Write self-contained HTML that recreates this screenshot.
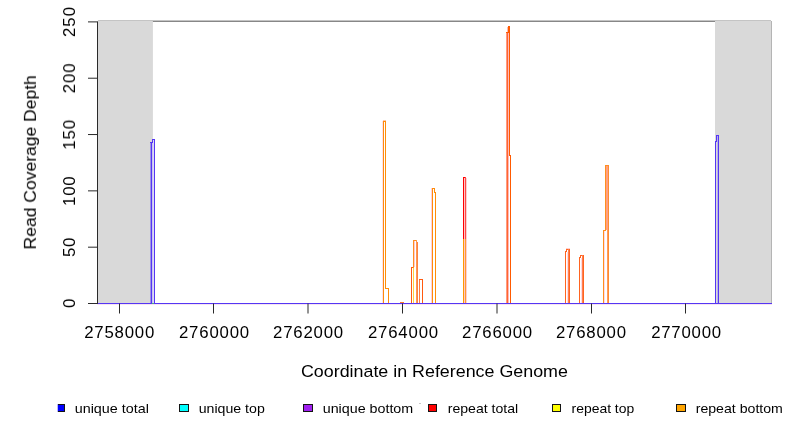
<!DOCTYPE html><html><head><meta charset="utf-8"><style>html,body{margin:0;padding:0;background:#fff;width:792px;height:432px;overflow:hidden} text{will-change:transform}</style></head><body><svg width="792" height="432" viewBox="0 0 792 432" style="display:block"><rect x="0" y="0" width="792" height="432" fill="#fff"/><rect x="98" y="20" width="673" height="1" fill="#c4c4c4"/><rect x="97" y="21" width="675" height="1" fill="#878787"/><rect x="98" y="21" width="54.9" height="282" fill="#d9d9d9"/><rect x="715" y="21" width="56" height="282" fill="#d9d9d9"/><rect x="771" y="21" width="1" height="283" fill="#b4b4b4"/><rect x="770.8" y="20" width="0.2" height="1" fill="#c4c4c4"/><rect x="97" y="304" width="675" height="1" fill="#f6e4f2"/><rect x="150" y="142" width="1" height="162" fill="#9f93e8"/><rect x="152" y="143" width="1" height="160" fill="#c9c6ee"/><rect x="153" y="140" width="1" height="163" fill="#dcdaf6"/><rect x="151" y="142" width="1" height="162" fill="#5536f4"/><rect x="150" y="142" width="3" height="1" fill="#5536f4"/><rect x="152" y="139" width="1" height="4" fill="#5536f4"/><rect x="152" y="139" width="3" height="1" fill="#5536f4"/><rect x="154" y="139" width="1" height="165" fill="#5536f4"/><rect x="717" y="136" width="1" height="167" fill="#b8b4ea"/><rect x="715" y="141" width="1" height="163" fill="#5536f4"/><rect x="715" y="141" width="2" height="1" fill="#5536f4"/><rect x="716" y="135" width="1" height="7" fill="#5536f4"/><rect x="716" y="135" width="3" height="1" fill="#5536f4"/><rect x="718" y="135" width="1" height="169" fill="#5536f4"/><rect x="382" y="121" width="1" height="182" fill="#fde0ea"/><rect x="383" y="120" width="3" height="1" fill="#ffc9a8"/><rect x="383" y="121" width="1" height="183" fill="#ff8c0a"/><rect x="383" y="121" width="3" height="1" fill="#ff8c0a"/><rect x="385" y="121" width="1" height="168" fill="#ff8c0a"/><rect x="385" y="288" width="4" height="1" fill="#ff8c0a"/><rect x="388" y="288" width="1" height="16" fill="#ff8c0a"/><rect x="400" y="302" width="4" height="1" fill="#ff7a30"/><rect x="411" y="267" width="1" height="37" fill="#ff5a10"/><rect x="411" y="267" width="3" height="1" fill="#ff5a10"/><rect x="413" y="268" width="1" height="35" fill="#ffd040"/><rect x="414" y="241" width="1" height="26" fill="#ffc8d0"/><rect x="413" y="240" width="1" height="28" fill="#ff9020"/><rect x="413" y="240" width="4" height="1" fill="#ff9020"/><rect x="416" y="240" width="1" height="64" fill="#ff9a50"/><rect x="417" y="242" width="1" height="62" fill="#ff8040"/><rect x="419" y="279" width="1" height="25" fill="#ff7a40"/><rect x="419" y="279" width="4" height="1" fill="#ff5a10"/><rect x="422" y="279" width="1" height="25" fill="#ff5a10"/><rect x="431" y="188" width="1" height="115" fill="#ffd0dc"/><rect x="432" y="188" width="1" height="116" fill="#ff8c0a"/><rect x="432" y="188" width="3" height="1" fill="#ff8c0a"/><rect x="434" y="188" width="1" height="5" fill="#ff8c0a"/><rect x="434" y="192" width="2" height="1" fill="#ff8c0a"/><rect x="435" y="192" width="1" height="112" fill="#ff8c0a"/><rect x="464" y="178" width="1" height="125" fill="#ffc8c8"/><rect x="463" y="177" width="1" height="62" fill="#ff0000"/><rect x="463" y="177" width="3" height="1" fill="#ff0000"/><rect x="465" y="177" width="1" height="62" fill="#ff4848"/><rect x="466" y="178" width="1" height="125" fill="#ffd0d0"/><rect x="463" y="239" width="1" height="65" fill="#ff9900"/><rect x="465" y="239" width="1" height="65" fill="#ff9a30"/><rect x="506" y="32" width="1" height="272" fill="#ff9a80"/><rect x="507" y="27" width="1" height="5" fill="#ffb8b0"/><rect x="507" y="32" width="1" height="272" fill="#ff6630"/><rect x="508" y="33" width="1" height="270" fill="#ffb8b8"/><rect x="506" y="32" width="3" height="1" fill="#ff5a00"/><rect x="508" y="26" width="1" height="7" fill="#ff5a00"/><rect x="508" y="26" width="2" height="1" fill="#ff5a00"/><rect x="509" y="26" width="1" height="130" fill="#ff5a00"/><rect x="509" y="155" width="2" height="1" fill="#ff5a00"/><rect x="510" y="155" width="1" height="149" fill="#ff5a00"/><rect x="565" y="251" width="1" height="53" fill="#ff6420"/><rect x="565" y="251" width="2" height="1" fill="#ff6420"/><rect x="566" y="249" width="1" height="3" fill="#ff6420"/><rect x="566" y="249" width="4" height="1" fill="#ff6420"/><rect x="566" y="248" width="4" height="1" fill="#ffd0d0"/><rect x="567" y="252" width="1" height="51" fill="#ffd8e0"/><rect x="568" y="249" width="1" height="55" fill="#ff8050"/><rect x="569" y="249" width="1" height="55" fill="#ff6420"/><rect x="579" y="257" width="1" height="47" fill="#ff6420"/><rect x="579" y="257" width="2" height="1" fill="#ff6420"/><rect x="580" y="255" width="1" height="3" fill="#ff6420"/><rect x="580" y="255" width="4" height="1" fill="#ff6420"/><rect x="581" y="258" width="1" height="45" fill="#ffd8e0"/><rect x="582" y="255" width="1" height="49" fill="#ff8050"/><rect x="583" y="255" width="1" height="49" fill="#ff6420"/><rect x="603" y="230" width="1" height="74" fill="#ff9020"/><rect x="603" y="230" width="3" height="1" fill="#ff9020"/><rect x="604" y="231" width="1" height="72" fill="#ffd8e8"/><rect x="605" y="165" width="1" height="66" fill="#ff9020"/><rect x="606" y="166" width="2" height="64" fill="#ffa080"/><rect x="607" y="230" width="1" height="74" fill="#ff9a60"/><rect x="605" y="165" width="4" height="1" fill="#ff9020"/><rect x="608" y="165" width="1" height="139" fill="#ff8a30"/><rect x="97" y="303" width="675" height="1" fill="#5536f4"/><rect x="152" y="303" width="2" height="1" fill="#48b478"/><rect x="97" y="22" width="1" height="282" fill="#2a2a2a"/><rect x="88" y="303.000" width="9.5" height="1" fill="#2a2a2a"/><rect x="88" y="246.678" width="9.5" height="1" fill="#2a2a2a"/><rect x="88" y="190.356" width="9.5" height="1" fill="#2a2a2a"/><rect x="88" y="134.034" width="9.5" height="1" fill="#2a2a2a"/><rect x="88" y="77.712" width="9.5" height="1" fill="#2a2a2a"/><rect x="88" y="21.390" width="9.5" height="1" fill="#2a2a2a"/><rect x="119.000" y="303.5" width="1" height="10" fill="#2a2a2a"/><rect x="213.000" y="303.5" width="1" height="10" fill="#2a2a2a"/><rect x="307.500" y="303.5" width="1" height="10" fill="#2a2a2a"/><rect x="402.000" y="303.5" width="1" height="10" fill="#2a2a2a"/><rect x="496.500" y="303.5" width="1" height="10" fill="#2a2a2a"/><rect x="591.000" y="303.5" width="1" height="10" fill="#2a2a2a"/><rect x="685.000" y="303.5" width="1" height="10" fill="#2a2a2a"/><rect x="179" y="404" width="10" height="8" fill="#141414"/><rect x="180" y="405" width="8" height="6" fill="#00ffff"/><rect x="303" y="404" width="10" height="8" fill="#141414"/><rect x="304" y="405" width="8" height="6" fill="#a020f0"/><rect x="428" y="404" width="9" height="8" fill="#141414"/><rect x="429" y="405" width="7" height="6" fill="#ff0000"/><rect x="552" y="404" width="9" height="8" fill="#141414"/><rect x="553" y="405" width="7" height="6" fill="#ffff00"/><rect x="676" y="404" width="10" height="8" fill="#141414"/><rect x="677" y="405" width="8" height="6" fill="#ffa500"/><rect x="57" y="404" width="1" height="8" fill="#b8b8ff"/><rect x="58" y="404" width="7" height="8" fill="#141414"/><rect x="58" y="405" width="6" height="6" fill="#0000ff"/><rect x="419" y="403" width="2" height="1" fill="#c8c8c8"/><text id="yl0" transform="translate(75.0,307.950) rotate(-90)" font-size="16.8" font-family="Liberation Sans, sans-serif" fill="#000" textLength="4.544" lengthAdjust="spacing">0</text><text id="yl50" transform="translate(75.0,256.961) rotate(-90)" font-size="16.8" font-family="Liberation Sans, sans-serif" fill="#000" textLength="19.322" lengthAdjust="spacing">50</text><text id="yl100" transform="translate(75.0,205.972) rotate(-90)" font-size="16.8" font-family="Liberation Sans, sans-serif" fill="#000" textLength="29.600" lengthAdjust="spacing">100</text><text id="yl150" transform="translate(75.0,149.683) rotate(-90)" font-size="16.8" font-family="Liberation Sans, sans-serif" fill="#000" textLength="29.750" lengthAdjust="spacing">150</text><text id="yl200" transform="translate(75.0,93.294) rotate(-90)" font-size="16.8" font-family="Liberation Sans, sans-serif" fill="#000" textLength="29.800" lengthAdjust="spacing">200</text><text id="yl250" transform="translate(75.0,37.055) rotate(-90)" font-size="16.8" font-family="Liberation Sans, sans-serif" fill="#000" textLength="30.000" lengthAdjust="spacing">250</text><text id="ylab" transform="translate(35.9,249.500) rotate(-90)" font-size="16.8" font-family="Liberation Sans, sans-serif" fill="#000" textLength="174.350" lengthAdjust="spacingAndGlyphs">Read Coverage Depth</text><text id="xl0" x="84.150" y="337.8" font-size="16.8" font-family="Liberation Sans, sans-serif" fill="#000" textLength="70.144" lengthAdjust="spacing">2758000</text><text id="xl1" x="178.987" y="337.8" font-size="16.8" font-family="Liberation Sans, sans-serif" fill="#000" textLength="70.144" lengthAdjust="spacing">2760000</text><text id="xl2" x="273.074" y="337.8" font-size="16.8" font-family="Liberation Sans, sans-serif" fill="#000" textLength="70.144" lengthAdjust="spacing">2762000</text><text id="xl3" x="367.962" y="337.8" font-size="16.8" font-family="Liberation Sans, sans-serif" fill="#000" textLength="70.144" lengthAdjust="spacing">2764000</text><text id="xl4" x="462.049" y="337.8" font-size="16.8" font-family="Liberation Sans, sans-serif" fill="#000" textLength="70.144" lengthAdjust="spacing">2766000</text><text id="xl5" x="555.886" y="337.8" font-size="16.8" font-family="Liberation Sans, sans-serif" fill="#000" textLength="70.144" lengthAdjust="spacing">2768000</text><text id="xl6" x="651.173" y="337.8" font-size="16.8" font-family="Liberation Sans, sans-serif" fill="#000" textLength="69.894" lengthAdjust="spacing">2770000</text><text id="xtitle" x="300.950" y="376.7" font-size="16.8" font-family="Liberation Sans, sans-serif" fill="#000" textLength="266.938" lengthAdjust="spacingAndGlyphs">Coordinate in Reference Genome</text><text id="lg0" x="74.700" y="412.8" font-size="12.7" font-family="Liberation Sans, sans-serif" fill="#000" textLength="74.159" lengthAdjust="spacingAndGlyphs">unique total</text><text id="lg1" x="198.700" y="412.8" font-size="12.7" font-family="Liberation Sans, sans-serif" fill="#000" textLength="66.116" lengthAdjust="spacingAndGlyphs">unique top</text><text id="lg2" x="322.700" y="412.8" font-size="12.7" font-family="Liberation Sans, sans-serif" fill="#000" textLength="90.522" lengthAdjust="spacingAndGlyphs">unique bottom</text><text id="lg3" x="447.700" y="412.8" font-size="12.7" font-family="Liberation Sans, sans-serif" fill="#000" textLength="70.484" lengthAdjust="spacingAndGlyphs">repeat total</text><text id="lg4" x="571.500" y="412.8" font-size="12.7" font-family="Liberation Sans, sans-serif" fill="#000" textLength="62.741" lengthAdjust="spacingAndGlyphs">repeat top</text><text id="lg5" x="695.700" y="412.8" font-size="12.7" font-family="Liberation Sans, sans-serif" fill="#000" textLength="87.197" lengthAdjust="spacingAndGlyphs">repeat bottom</text></svg></body></html>
